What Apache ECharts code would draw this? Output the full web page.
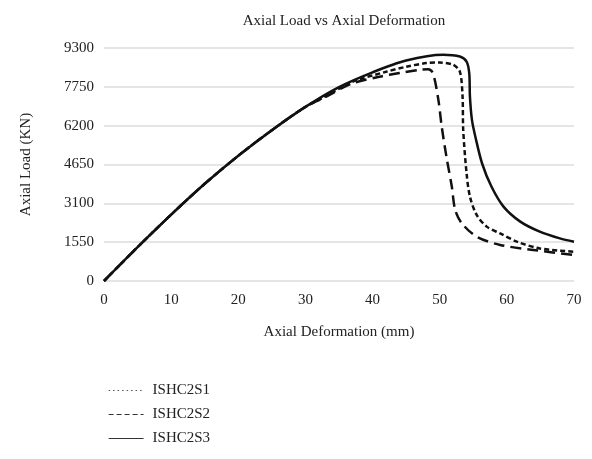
<!DOCTYPE html>
<html>
<head>
<meta charset="utf-8">
<script src="https://cdn.jsdelivr.net/npm/echarts@6/dist/echarts.min.js"></script>
<style>
  html, body { margin: 0; padding: 0; background: #fff; }
</style>
</head>
<body>
<div id="chart" style="width: 592px; height: 459px"></div>
<script>
// deformation (mm) / load (kN)
var s1Def  = [0, 5, 10, 15, 20, 25, 30, 33, 37, 41, 44, 47, 48.3, 49, 49.8, 50.3, 51, 51.8, 52.3, 53.3, 55.5, 59, 63.9, 70];
var s1Load = [0, 1350, 2650, 3880, 5000, 6020, 6950, 7350, 7890, 8150, 8300, 8430, 8450, 8290, 7230, 6160, 4960, 3770, 2840, 2300, 1770, 1440, 1240, 1040];

var s2Def  = [0, 5, 10, 15, 20, 25, 30, 33, 37, 42, 45, 48, 50, 52, 53, 53.4, 53.5, 54, 54.5, 55.5, 57, 59, 61.5, 64.9, 70];
var s2Load = [0, 1350, 2650, 3880, 5000, 6020, 6950, 7370, 7950, 8350, 8550, 8700, 8720, 8630, 8360, 7370, 6030, 4300, 3370, 2640, 2170, 1900, 1570, 1300, 1170];

var s3Def  = [0, 5, 10, 15, 20, 25, 30, 35, 40, 45, 50.5, 53, 54, 54.4, 54.5, 54.8, 55.3, 56.3, 57.7, 59.5, 62, 64.9, 67.9, 70];
var s3Load = [0, 1350, 2650, 3880, 5000, 6020, 6950, 7740, 8330, 8800, 9030, 8960, 8760, 8290, 7370, 6430, 5770, 4700, 3770, 2970, 2370, 1970, 1700, 1570];

var seriesNames = ['ISHC2S1', 'ISHC2S2', 'ISHC2S3'];
var yTicks = [0, 1550, 3100, 4650, 6200, 7750, 9300];

function pairs (xs, ys) {
  var out = [];
  for (var i = 0; i < xs.length; i++) out.push([xs[i], ys[i]]);
  return out;
}

var font = '"Liberation Serif", "DejaVu Serif", serif';
var myChart = echarts.init(document.getElementById('chart'));

var option = {
  backgroundColor: '#fff',
  animation: false,
  color: ['#111', '#111', '#111'],
  title: {
    text: 'Axial Load vs Axial Deformation',
    left: 339,
    top: 9,
    textAlign: 'center',
    textStyle: { fontFamily: font, fontSize: 15, fontWeight: 'normal', color: '#222' }
  },
  legend: {
    orient: 'vertical',
    left: 103,
    top: 378,
    itemGap: 9,
    itemWidth: 35,
    itemHeight: 14,
    textStyle: { fontFamily: font, fontSize: 15, color: '#222', padding: [0, 0, 0, 4] },
    data: [
      { name: seriesNames[0], itemStyle: { opacity: 0 }, lineStyle: { type: [1.5, 3], width: 1, color: '#555' } },
      { name: seriesNames[1], itemStyle: { opacity: 0 }, lineStyle: { type: [5, 3], width: 1.2, color: '#333' } },
      { name: seriesNames[2], itemStyle: { opacity: 0 }, lineStyle: { type: 'solid', width: 1.2, color: '#333' } }
    ]
  },
  grid: { left: 104, right: 18, top: 48, bottom: 178 },
  xAxis: {
    type: 'value',
    min: 0,
    max: 70,
    interval: 10,
    name: 'Axial Deformation (mm)',
    nameLocation: 'middle',
    nameGap: 44,
    nameTextStyle: { fontFamily: font, fontSize: 15, color: '#222' },
    axisLine: { show: false },
    axisTick: { show: false },
    axisLabel: { fontFamily: font, fontSize: 15, color: '#222', margin: 12 },
    splitLine: { show: false }
  },
  yAxis: {
    type: 'value',
    min: 0,
    max: yTicks[yTicks.length - 1],
    interval: yTicks[1],
    name: 'Axial Load (KN)',
    nameLocation: 'middle',
    nameGap: 70,
    nameTextStyle: { fontFamily: font, fontSize: 15, color: '#222' },
    axisLine: { show: false },
    axisTick: { show: false },
    axisLabel: {
      fontFamily: font, fontSize: 15, color: '#222', margin: 10,
      formatter: function (v) { return String(v); }
    },
    splitLine: { show: true, lineStyle: { color: '#dcdcdc', width: 1.5 } }
  },
  series: [
    {
      name: seriesNames[0],
      type: 'line',
      symbol: 'none',
      smooth: 0.3,
      itemStyle: { color: '#111' },
      lineStyle: { color: '#111', width: 2.5, type: [11, 6] },
      data: pairs(s1Def, s1Load),
      z: 3
    },
    {
      name: seriesNames[1],
      type: 'line',
      symbol: 'none',
      smooth: 0.3,
      itemStyle: { color: '#111' },
      lineStyle: { color: '#111', width: 2.5, type: [5, 3] },
      data: pairs(s2Def, s2Load),
      z: 4
    },
    {
      name: seriesNames[2],
      type: 'line',
      symbol: 'none',
      smooth: 0.3,
      itemStyle: { color: '#111' },
      lineStyle: { color: '#111', width: 2.5 },
      data: pairs(s3Def, s3Load),
      z: 5
    }
  ]
};
myChart.setOption(option);
</script>
</body>
</html>
